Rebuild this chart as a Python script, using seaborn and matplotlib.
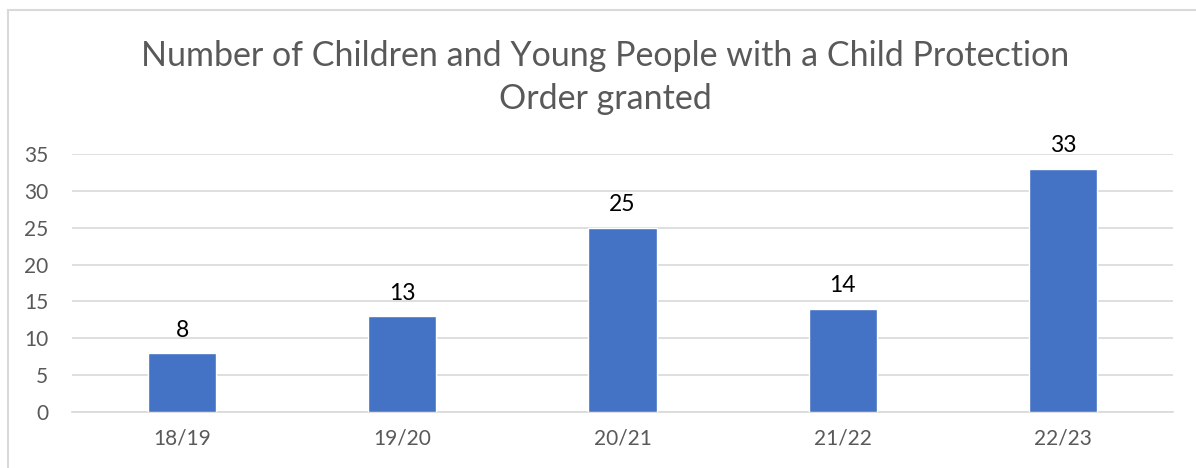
import matplotlib
matplotlib.use("Agg")
import matplotlib.pyplot as plt
import pandas as pd
import seaborn as sns
from matplotlib.patches import Rectangle

# Data
years = ["18/19", "19/20", "20/21", "21/22", "22/23"]
orders = [8, 13, 25, 14, 33]
y_ticks = [0, 5, 10, 15, 20, 25, 30, 35]

df = pd.DataFrame({"year": years, "orders": orders})

sns.set_theme(style="white")
plt.rcParams["font.family"] = ["Lato", "DejaVu Sans"]

fig = plt.figure(figsize=(11.96, 4.68), dpi=100)
ax = fig.add_axes([0.0602, 0.1197, 0.9206, 0.5513])

sns.barplot(data=df, x="year", y="orders", color="#4472C4", width=0.31,
            saturation=1, ax=ax, zorder=3)

ax.set_ylim(0, 35)
ax.set_xlim(-0.5, len(years) - 0.5)
ax.set_yticks(y_ticks)
ax.yaxis.grid(True, color="#D9D9D9", linewidth=1.2, zorder=0)
ax.set_axisbelow(True)
for side in ["top", "right", "left"]:
    ax.spines[side].set_visible(False)
ax.spines["bottom"].set_color("#D9D9D9")
ax.spines["bottom"].set_linewidth(1.2)
ax.tick_params(axis="both", length=0, labelsize=15, colors="#595959")
ax.tick_params(axis="x", pad=12)
ax.tick_params(axis="y", pad=17)
ax.set_xlabel("")
ax.set_ylabel("")

# data labels
for i, v in enumerate(orders):
    ax.annotate(str(v), (i, v), xytext=(0, 9), textcoords="offset points",
                ha="center", va="bottom", fontsize=16.5, color="black")

fig.text(0.506, 0.834, "Number of Children and Young People with a Child Protection\nOrder granted",
         ha="center", va="center", fontsize=24.5, color="#595959", linespacing=1.42)

# chart border
fig.patches.append(Rectangle((8 / 1196, -0.1), 1.2, 1 - 10 / 468 + 0.1,
                             transform=fig.transFigure, fill=False,
                             edgecolor="#D9D9D9", linewidth=1.5))

fig.savefig("out.png", dpi=100)
